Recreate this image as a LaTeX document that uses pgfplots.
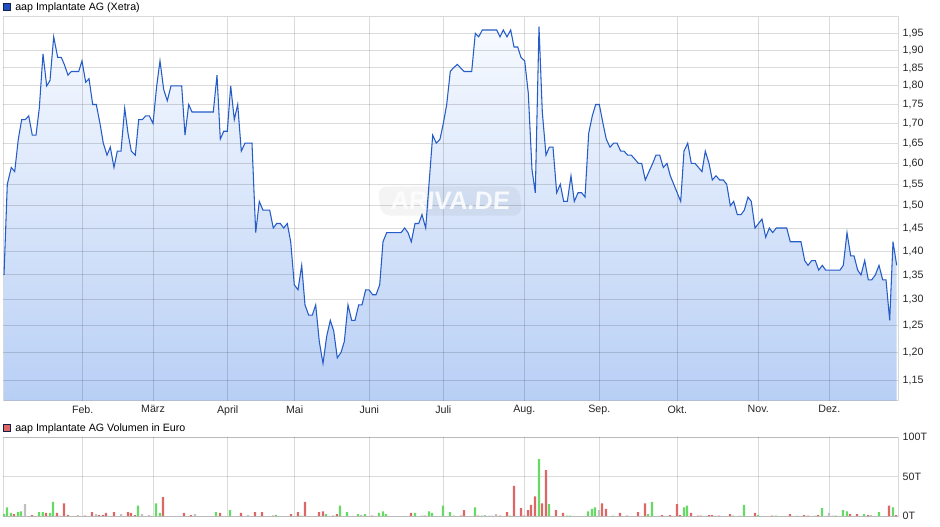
\documentclass[border=0pt]{standalone}
\usepackage{fontspec}
\setmainfont{Liberation Sans}
\usepackage{pgfplots}
\pgfplotsset{compat=1.18}
\usepackage{pgfplotstable}

\definecolor{linebl}{RGB}{37,92,199}
\definecolor{filltop}{RGB}{247,250,255}
\definecolor{fillbot}{RGB}{184,207,245}
\definecolor{vgreen}{RGB}{102,217,102}
\definecolor{vred}{RGB}{221,102,102}
\definecolor{vgray}{RGB}{192,192,192}
\definecolor{legblue}{RGB}{30,80,194}
\definecolor{legdark}{RGB}{20,30,70}

\pgfplotstableread{
x y
4 1.35
7.3 1.55
11.3 1.59
14.7 1.58
18.3 1.66
21.7 1.71
25.3 1.71
28.7 1.72
32.3 1.67
36 1.67
39.3 1.74
43 1.89
46.7 1.80
50 1.815
53.7 1.94
57.7 1.88
61.3 1.88
64.3 1.86
68 1.83
71.3 1.84
78.7 1.84
82 1.87
85.7 1.81
89 1.82
92.7 1.75
96.3 1.75
100 1.70
103.3 1.65
107 1.62
110.3 1.64
114 1.59
117.3 1.63
121 1.63
124.7 1.74
128 1.675
131.3 1.63
135.3 1.62
138.7 1.71
142.3 1.71
145.7 1.72
149.3 1.72
153 1.70
156.7 1.80
160 1.87
163.7 1.79
167.3 1.76
171 1.80
181.7 1.80
185 1.67
188.7 1.75
192 1.73
213.3 1.73
217 1.83
220.3 1.66
223.7 1.68
227.3 1.68
230.7 1.80
234.3 1.71
237.7 1.75
241.3 1.63
245 1.65
252 1.65
255.7 1.44
259.3 1.51
263 1.49
269.7 1.49
273.3 1.45
276.7 1.46
280.3 1.46
283.7 1.45
287.3 1.46
290.7 1.42
294.3 1.33
298 1.32
301.7 1.37
305 1.29
308.7 1.27
312.3 1.27
315.7 1.29
319.3 1.22
323 1.18
326.7 1.23
330.3 1.26
333.7 1.24
337.3 1.19
341 1.20
344.3 1.22
348 1.29
351.7 1.26
355 1.26
358.7 1.29
362 1.29
365.7 1.32
369 1.32
372.7 1.31
376 1.31
379.7 1.33
383 1.42
386.7 1.44
401 1.44
404.7 1.45
408 1.44
411.3 1.42
415 1.46
418.7 1.46
422 1.48
425.7 1.45
429 1.55
432.7 1.67
436.3 1.65
440 1.66
443.3 1.70
446.7 1.75
450.3 1.84
453.3 1.85
457.3 1.86
464 1.84
471.7 1.84
475.3 1.95
478.7 1.94
482.3 1.96
496.7 1.96
500 1.94
503.3 1.96
507 1.94
510.7 1.96
514 1.91
517.7 1.91
521 1.88
524.7 1.87
528.3 1.78
532 1.585
535.3 1.53
539 1.97
542.3 1.73
546 1.62
549.3 1.64
553 1.64
556.7 1.53
560.3 1.55
563.7 1.51
567.3 1.51
571 1.57
574.3 1.51
578 1.53
581.7 1.53
585 1.52
588.7 1.675
592.3 1.72
595.7 1.75
599.3 1.75
603 1.70
606.3 1.66
610 1.64
613.7 1.65
617 1.65
620.7 1.63
624 1.63
627.7 1.62
631.3 1.62
635 1.61
638.3 1.60
641.7 1.60
645.3 1.56
649 1.58
652.7 1.60
656 1.62
659.7 1.62
663.3 1.59
667 1.60
670.3 1.57
680.7 1.51
684 1.63
687.7 1.65
691.3 1.60
695 1.60
702 1.58
705.3 1.63
709 1.60
712.3 1.56
716 1.57
719.7 1.56
723.3 1.56
726.7 1.55
730.3 1.50
733.7 1.51
737.3 1.48
741 1.48
744.3 1.49
748 1.52
751.3 1.51
755 1.45
762 1.47
765.7 1.43
769.3 1.45
772.7 1.44
776.3 1.45
786.7 1.45
790.3 1.42
801 1.42
804.7 1.38
808 1.37
811.7 1.38
815.3 1.38
818.7 1.36
822.3 1.37
825.7 1.36
840 1.36
843.3 1.37
847 1.44
850.7 1.39
854 1.39
857.7 1.36
861 1.35
864.7 1.38
868.3 1.34
871.7 1.34
875.3 1.35
879 1.37
882.7 1.34
886 1.34
889.7 1.26
893 1.42
896.7 1.37
}\price

% same series, closed down to the lower axis limit, for the shaded area
\pgfplotstableread{
x y
4 1.115
4 1.35
7.3 1.55
11.3 1.59
14.7 1.58
18.3 1.66
21.7 1.71
25.3 1.71
28.7 1.72
32.3 1.67
36 1.67
39.3 1.74
43 1.89
46.7 1.80
50 1.815
53.7 1.94
57.7 1.88
61.3 1.88
64.3 1.86
68 1.83
71.3 1.84
78.7 1.84
82 1.87
85.7 1.81
89 1.82
92.7 1.75
96.3 1.75
100 1.70
103.3 1.65
107 1.62
110.3 1.64
114 1.59
117.3 1.63
121 1.63
124.7 1.74
128 1.675
131.3 1.63
135.3 1.62
138.7 1.71
142.3 1.71
145.7 1.72
149.3 1.72
153 1.70
156.7 1.80
160 1.87
163.7 1.79
167.3 1.76
171 1.80
181.7 1.80
185 1.67
188.7 1.75
192 1.73
213.3 1.73
217 1.83
220.3 1.66
223.7 1.68
227.3 1.68
230.7 1.80
234.3 1.71
237.7 1.75
241.3 1.63
245 1.65
252 1.65
255.7 1.44
259.3 1.51
263 1.49
269.7 1.49
273.3 1.45
276.7 1.46
280.3 1.46
283.7 1.45
287.3 1.46
290.7 1.42
294.3 1.33
298 1.32
301.7 1.37
305 1.29
308.7 1.27
312.3 1.27
315.7 1.29
319.3 1.22
323 1.18
326.7 1.23
330.3 1.26
333.7 1.24
337.3 1.19
341 1.20
344.3 1.22
348 1.29
351.7 1.26
355 1.26
358.7 1.29
362 1.29
365.7 1.32
369 1.32
372.7 1.31
376 1.31
379.7 1.33
383 1.42
386.7 1.44
401 1.44
404.7 1.45
408 1.44
411.3 1.42
415 1.46
418.7 1.46
422 1.48
425.7 1.45
429 1.55
432.7 1.67
436.3 1.65
440 1.66
443.3 1.70
446.7 1.75
450.3 1.84
453.3 1.85
457.3 1.86
464 1.84
471.7 1.84
475.3 1.95
478.7 1.94
482.3 1.96
496.7 1.96
500 1.94
503.3 1.96
507 1.94
510.7 1.96
514 1.91
517.7 1.91
521 1.88
524.7 1.87
528.3 1.78
532 1.585
535.3 1.53
539 1.97
542.3 1.73
546 1.62
549.3 1.64
553 1.64
556.7 1.53
560.3 1.55
563.7 1.51
567.3 1.51
571 1.57
574.3 1.51
578 1.53
581.7 1.53
585 1.52
588.7 1.675
592.3 1.72
595.7 1.75
599.3 1.75
603 1.70
606.3 1.66
610 1.64
613.7 1.65
617 1.65
620.7 1.63
624 1.63
627.7 1.62
631.3 1.62
635 1.61
638.3 1.60
641.7 1.60
645.3 1.56
649 1.58
652.7 1.60
656 1.62
659.7 1.62
663.3 1.59
667 1.60
670.3 1.57
680.7 1.51
684 1.63
687.7 1.65
691.3 1.60
695 1.60
702 1.58
705.3 1.63
709 1.60
712.3 1.56
716 1.57
719.7 1.56
723.3 1.56
726.7 1.55
730.3 1.50
733.7 1.51
737.3 1.48
741 1.48
744.3 1.49
748 1.52
751.3 1.51
755 1.45
762 1.47
765.7 1.43
769.3 1.45
772.7 1.44
776.3 1.45
786.7 1.45
790.3 1.42
801 1.42
804.7 1.38
808 1.37
811.7 1.38
815.3 1.38
818.7 1.36
822.3 1.37
825.7 1.36
840 1.36
843.3 1.37
847 1.44
850.7 1.39
854 1.39
857.7 1.36
861 1.35
864.7 1.38
868.3 1.34
871.7 1.34
875.3 1.35
879 1.37
882.7 1.34
886 1.34
889.7 1.26
893 1.42
896.7 1.37
896.7 1.115
}\pricearea

\pgfplotstableread{
x v
4 2.5
7 11
11 4
18 5
21 6
39 5
42.7 5
50 4
53 18
138 13
156 16
160 4
216 5
230 7.5
276 1.5
301 0.5
326 2.5
340 13
347 5
358 2.5
365 2.5
379 4
383 6
386 2.5
415 4
422 0.5
429 6
432 4
443 13
450 5
454 0.5
475 11
482 0.5
510 0.5
539 72
549 15
567 0.5
570 0.5
588 6
592 9
595 11
613 0.5
648 2.5
652 18
684 11
687 13
733 0.5
744 14
758 1
776 0.5
822 10
836 0.5
843 7.5
847 6
864 2.5
879 5
893 11
}\volgreen

\pgfplotstableread{
x v
14 2.5
32 1
46 4
57 4
64 16
68 1
85 0.5
92 5
99 1
103 1
106 4
114 5
128 5
131 4
135 1
163 24
184 4
191 1
220 4
241 4
255 5
262 5
273 0.5
291 2.5
298 5
305 18
319 5
323 6
333 0.5
337 2.5
372 0.5
411 4
425 0.5
461 0.5
464 7.5
478 0.5
500 0.5
507 5
514 38
521 10
524 0.5
528 7.5
531 14
535 25
542 16
546 58
556 7.5
563 4
602 16
606 9
620 4
627 0.5
638 5
645 16
662 1
670 1
677 15
680 1
691 4
698 0.5
701 0.5
709 1
712 1
719 0.5
730 2.5
755 4
772 0.5
790 2.5
804 1
808 0.5
818 1
850 2.5
857 2.5
868 1
889 13
896 1
}\volred

\pgfplotstableread{
x v
25 15
60 0.5
78 1
96 2.5
121 2.5
142 2.5
149 1
195 2.5
248 1
361 1.5
485 1
489 0.5
492 0.5
496 2.5
599 7.5
740 0.5
797 0.5
815 0.5
829 4
833 0.5
871 1
}\volgray

\pgfplotsset{
  basestyle/.style={
    scale only axis, width=671.25pt,
    xmin=3, xmax=898,
    set layers,
    axis line style={draw=black, opacity=0.15, line width=0.75pt},
    grid style={draw=black, opacity=0.14, line width=0.75pt},
    xmajorgrids, ymajorgrids,
    major tick length=0pt,
    yticklabel pos=right,
    tick label style={font=\fontsize{8}{9.6}\selectfont, text=black!85},
    xtick={82.7,153,227.7,294.7,369.3,443.3,524.3,599.3,677.3,758.3,829.3},
  }
}

\begin{document}
\begin{tikzpicture}

\begin{axis}[basestyle,
  at={(2.25pt,93.975pt)}, anchor=south west,
  height=288pt,
  ymode=log, ymin=1.115, ymax=2.0,
  xticklabels={Feb.,März,April,Mai,Juni,Juli,Aug.,Sep.,Okt.,Nov.,Dez.},
  ytick={1.15,1.2,1.25,1.3,1.35,1.4,1.45,1.5,1.55,1.6,1.65,1.7,1.75,1.8,1.85,1.9,1.95},
  yticklabels={{1,15},{1,20},{1,25},{1,30},{1,35},{1,40},{1,45},{1,50},{1,55},{1,60},{1,65},{1,70},{1,75},{1,80},{1,85},{1,90},{1,95}},
]
\addplot[on layer=axis background, draw=none, top color=filltop, bottom color=fillbot] table[x=x,y=y] {\pricearea};
\node[fill=black, fill opacity=0.045, text opacity=0.85, text=white, rounded corners=7pt,
      minimum width=106pt, minimum height=22pt, inner sep=0pt, xslant=-0.12,
      font=\fontsize{19}{20}\selectfont\bfseries\itshape] at (rel axis cs:0.4995,0.52) {ARIVA.DE};
\addplot[draw=linebl, line width=0.8pt] table[x=x,y=y] {\price};
\end{axis}

\begin{axis}[basestyle,
  at={(2.25pt,7.5pt)}, anchor=south west,
  height=59.25pt,
  ymin=0, ymax=100,
  xticklabels={},
  ytick={0,50,100},
  yticklabels={0T,50T,100T},
]
\addplot[ybar, bar width=1.6pt, bar shift=0pt, fill=vgreen, draw=none] table[x=x,y=v] {\volgreen};
\addplot[ybar, bar width=1.6pt, bar shift=0pt, fill=vred, draw=none] table[x=x,y=v] {\volred};
\addplot[ybar, bar width=1.6pt, bar shift=0pt, fill=vgray, draw=none] table[x=x,y=v] {\volgray};
\end{axis}

% legends
\filldraw[fill=legblue, draw=legdark, line width=0.6pt] (2.5pt,386.5pt) rectangle (8pt,392pt);
\node[anchor=base west, inner sep=0pt, font=\fontsize{8}{9.6}\selectfont] at (11.25pt,386.5pt) {aap Implantate AG (Xetra)};
\filldraw[fill=vred, draw=legdark, line width=0.6pt] (2.5pt,70.7pt) rectangle (8pt,76.3pt);
\node[anchor=base west, inner sep=0pt, font=\fontsize{8}{9.6}\selectfont] at (11.25pt,70.7pt) {aap Implantate AG Volumen in Euro};
\path (0,0) rectangle (705pt,394.5pt);
\end{tikzpicture}
\end{document}
